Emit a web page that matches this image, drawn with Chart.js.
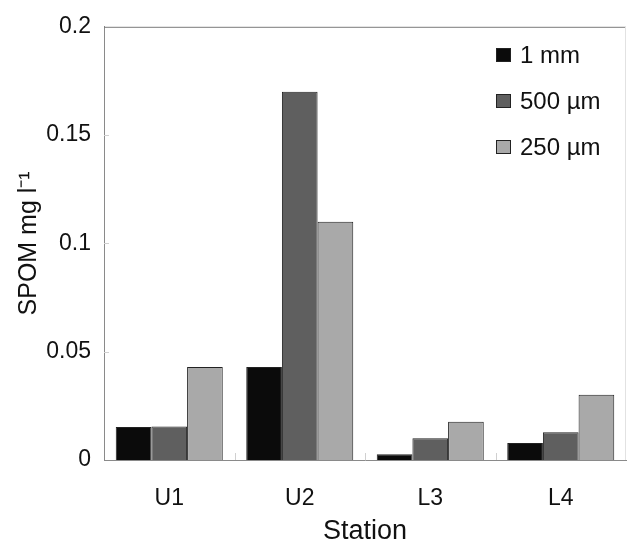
<!DOCTYPE html>
<html>
<head>
<meta charset="utf-8">
<script src="https://cdn.jsdelivr.net/npm/chart.js@4/dist/chart.umd.min.js"></script>
<style>
html,body{margin:0;padding:0;background:#fff;}
#wrap{width:627px;height:545px;position:relative;}
</style>
</head>
<body>
<div id="wrap"><canvas id="c" width="627" height="545"></canvas></div>
<script>
const categories = ["U1", "U2", "L3", "L4"];
const seriesNames = ["1 mm", "500 µm", "250 µm"];
const values1mm = [0.0152, 0.0429, 0.0027, 0.0079];
const values500um = [0.0155, 0.170, 0.0100, 0.0128];
const values250um = [0.0429, 0.110, 0.0177, 0.0301];
const yTicks = [0, 0.05, 0.1, 0.15, 0.2];
const colors = ["#0b0b0b", "#5f5f5f", "#a9a9a9"];

const FONT = "'Liberation Sans', Arial, Helvetica, sans-serif";

const framePlugin = {
  id: 'frame',
  afterDatasetsDraw(chart) {
    const {ctx, chartArea: a} = chart;
    const xs = chart.scales.x, ys = chart.scales.y;
    ctx.save();
    ctx.lineWidth = 1;
    // small inner tick marks
    ctx.strokeStyle = '#d0d0d0';
    for (let i = 1; i < categories.length; i++) {
      const x = Math.round((xs.getPixelForTick(i - 1) + xs.getPixelForTick(i)) / 2) + 0.5;
      ctx.beginPath();
      ctx.moveTo(x, a.bottom);
      ctx.lineTo(x, a.bottom - 7);
      ctx.stroke();
    }
    yTicks.slice(1, -1).forEach(v => {
      const y = Math.round(ys.getPixelForValue(v)) + 0.5;
      ctx.beginPath();
      ctx.moveTo(a.left, y);
      ctx.lineTo(a.left + 5, y);
      ctx.stroke();
    });
    ctx.strokeStyle = '#7a7a7a';
    ctx.beginPath();
    ctx.moveTo(a.left, a.top + 0.5);
    ctx.lineTo(a.right, a.top + 0.5);
    ctx.stroke();
    ctx.strokeStyle = '#e2e2e2';
    ctx.beginPath();
    ctx.moveTo(a.right - 0.5, a.top);
    ctx.lineTo(a.right - 0.5, a.bottom);
    ctx.stroke();
    // legend inside plot
    const items = chart.data.datasets;
    ctx.font = "24px " + FONT;
    ctx.textBaseline = 'middle';
    ctx.textAlign = 'left';
    items.forEach((ds, i) => {
      const cy = 55 + i * 46;
      const bx = 496;
      ctx.fillStyle = ds.backgroundColor;
      ctx.fillRect(bx, cy - 7, 15, 14);
      ctx.strokeStyle = '#222';
      ctx.strokeRect(bx + 0.5, cy - 6.5, 14, 13);
      ctx.fillStyle = '#111';
      ctx.fillText(ds.label, 520, cy + 1);
    });
    ctx.restore();
  }
};

new Chart(document.getElementById('c'), {
  type: 'bar',
  data: {
    labels: categories,
    datasets: [
      {label: seriesNames[0], data: values1mm, backgroundColor: colors[0]},
      {label: seriesNames[1], data: values500um, backgroundColor: colors[1]},
      {label: seriesNames[2], data: values250um, backgroundColor: colors[2]}
    ].map(d => Object.assign(d, {borderColor: '#222', borderWidth: 1, categoryPercentage: 0.82, barPercentage: 1.0}))
  },
  options: {
    responsive: false,
    animation: false,
    events: [],
    layout: {padding: {top: 22, right: 1, left: 0, bottom: 0}},
    plugins: {legend: {display: false}, tooltip: {enabled: false}},
    scales: {
      x: {
        grid: {display: false, drawTicks: false},
        border: {display: true, color: '#8a8a8a', width: 1},
        ticks: {padding: 25, color: '#111', font: {family: FONT, size: 23}},
        title: {display: true, text: 'Station', color: '#111', font: {family: FONT, size: 27, lineHeight: 1}, padding: {top: 0, bottom: 0}},
        afterFit(s) { s.height = 85; }
      },
      y: {
        min: 0, max: 0.2,
        afterBuildTicks(s) { s.ticks = yTicks.map(v => ({value: v})); },
        grid: {display: false, drawTicks: false},
        border: {display: true, color: '#8a8a8a', width: 1},
        ticks: {padding: 13, color: '#111', font: {family: FONT, size: 23},
          callback: v => String(v)},
        title: {display: true, text: 'SPOM mg l\u207B\u00B9', color: '#111', font: {family: FONT, size: 25}, padding: {top: 14, bottom: 0}},
        afterFit(s) { s.width = 104; }
      }
    }
  },
  plugins: [framePlugin]
});
</script>
</body>
</html>
